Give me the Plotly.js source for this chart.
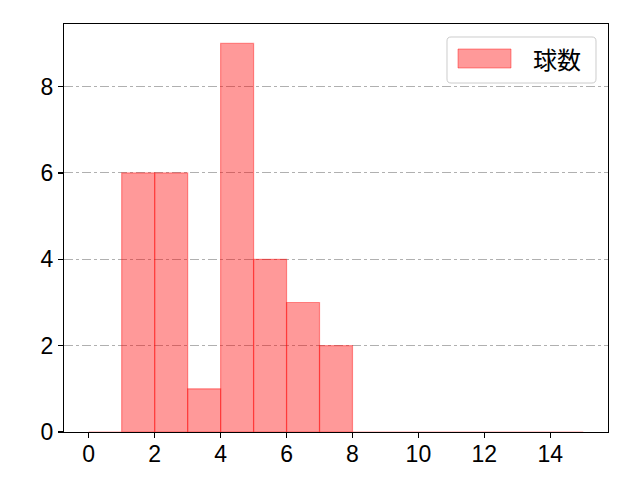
<!DOCTYPE html>
<html>
<head>
<meta charset="utf-8">
<script src="https://cdn.plot.ly/plotly-3.0.1.min.js"></script>
<style>
  html, body { margin: 0; padding: 0; background: #fff; }
  #myDiv { width: 640px; height: 480px; }
</style>
</head>
<body>
<div id="myDiv"></div>
<script>
// histogram bins (left edges) and counts
var binEdges = [0, 1, 2, 3, 4, 5, 6, 7, 8, 9, 10, 11, 12, 13, 14];
var counts   = [0, 6, 6, 1, 9, 4, 3, 2, 0, 0, 0, 0, 0, 0, 0];
var seriesName = '球数';
var xTicks = [0, 2, 4, 6, 8, 10, 12, 14];
var yTicks = [0, 2, 4, 6, 8];

var tickFont = '"Liberation Sans", Arial, sans-serif';
var cjkFont = '"Noto Sans CJK JP", "Noto Sans", sans-serif';
var red = 'rgba(255,0,0,0.4)';

var trace = {
    type: 'bar',
    name: seriesName,
    x: binEdges.map(e => e + 0.5),
    y: counts,
    width: 1,
    marker: { color: red, line: { color: red, width: 1.2 } },
    showlegend: false,
    hoverinfo: 'x+y'
};

var axisCommon = {
    showline: true,
    mirror: true,
    linecolor: '#000',
    linewidth: 1.1,
    ticks: 'outside',
    ticklen: 5,
    tickwidth: 1.1,
    tickcolor: '#000',
    tickfont: { family: tickFont, size: 23, color: '#000' },
    zeroline: false
};

var layout = {
    width: 640,
    height: 480,
    margin: { l: 64, r: 32, t: 24, b: 48 },
    paper_bgcolor: '#fff',
    plot_bgcolor: '#fff',
    font: { family: tickFont },
    bargap: 0,
    xaxis: Object.assign({}, axisCommon, {
        range: [-0.75, 15.75],
        tickvals: xTicks,
        ticklabelstandoff: -4,
        showgrid: false
    }),
    yaxis: Object.assign({}, axisCommon, {
        range: [0, 9.45],
        tickvals: yTicks,
        showgrid: true,
        gridcolor: '#b0b0b0',
        gridwidth: 1,
        griddash: 'dashdot'
    }),
    // legend drawn by hand so the patch matches matplotlib's proportions
    shapes: [
        {
            type: 'path', xref: 'paper', yref: 'paper', layer: 'above',
            path: legendBox(447, 37, 596, 83, 4),
            fillcolor: 'rgba(255,255,255,0.8)',
            line: { color: '#cccccc', width: 1 }
        },
        {
            type: 'rect', xref: 'paper', yref: 'paper', layer: 'above',
            x0: px(458), x1: px(511), y0: py(68), y1: py(49),
            fillcolor: red,
            line: { color: red, width: 1 }
        }
    ],
    annotations: [{
        xref: 'paper', yref: 'paper',
        x: px(531), y: py(58.5),
        xanchor: 'left', yanchor: 'middle',
        text: seriesName,
        showarrow: false,
        font: { family: cjkFont, size: 24, color: '#000' }
    }]
};

// pixel -> paper helpers for the legend
function px(x) { return (x - 64) / 544; }
function py(y) { return (432 - y) / 408; }
function legendBox(x0, y0, x1, y1, r) {
    var X = v => px(v).toFixed(5), Y = v => py(v).toFixed(5);
    return 'M' + X(x0 + r) + ',' + Y(y0) +
        ' L' + X(x1 - r) + ',' + Y(y0) +
        ' Q' + X(x1) + ',' + Y(y0) + ' ' + X(x1) + ',' + Y(y0 + r) +
        ' L' + X(x1) + ',' + Y(y1 - r) +
        ' Q' + X(x1) + ',' + Y(y1) + ' ' + X(x1 - r) + ',' + Y(y1) +
        ' L' + X(x0 + r) + ',' + Y(y1) +
        ' Q' + X(x0) + ',' + Y(y1) + ' ' + X(x0) + ',' + Y(y1 - r) +
        ' L' + X(x0) + ',' + Y(y0 + r) +
        ' Q' + X(x0) + ',' + Y(y0) + ' ' + X(x0 + r) + ',' + Y(y0) + ' Z';
}

Plotly.newPlot('myDiv', [trace], layout, { displayModeBar: false, staticPlot: true });
</script>
</body>
</html>
